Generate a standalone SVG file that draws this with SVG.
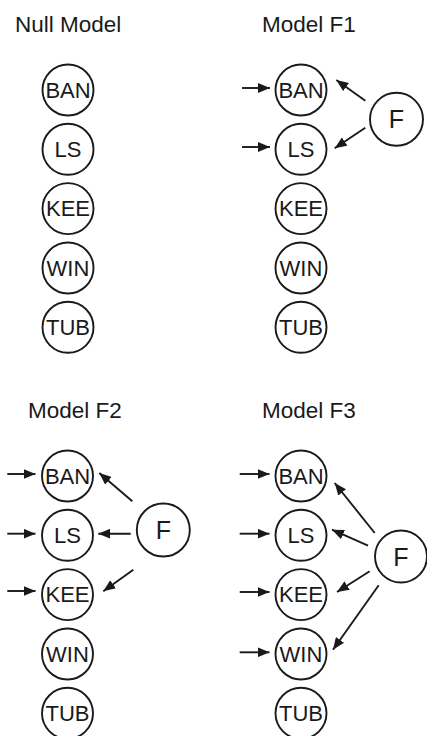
<svg xmlns="http://www.w3.org/2000/svg" width="427" height="736" viewBox="0 0 427 736">
<defs>
<marker id="ah" markerUnits="userSpaceOnUse" markerWidth="12" markerHeight="10" viewBox="0 0 12 10" refX="12" refY="5" orient="auto">
<path d="M0,0 L12,5 L0,10 Z" fill="#1a1a1a"/>
</marker>
</defs>
<style>
text{font-family:"Liberation Sans",Arial,sans-serif;fill:#1a1a1a}
.t{font-size:22.5px}
.n{font-size:22px;text-anchor:middle}
.f{font-size:25px;text-anchor:middle}
circle{fill:#fff;stroke:#1a1a1a;stroke-width:1.9}
line{stroke:#1a1a1a;stroke-width:1.9;marker-end:url(#ah)}
</style>
<rect width="427" height="736" fill="#fff"/>
<g id="titles">
<text class="t" x="15" y="31.5">Null Model</text>
<text class="t" x="262" y="31.5">Model F1</text>
<text class="t" x="28" y="417.5">Model F2</text>
<text class="t" x="262" y="417.5">Model F3</text>
</g>
<g id="null-model">
<g id="null-BAN"><circle cx="68" cy="90" r="25.5"/><text class="n" x="68" y="97.7">BAN</text></g>
<g id="null-LS"><circle cx="68" cy="149.3" r="25.5"/><text class="n" x="68" y="157">LS</text></g>
<g id="null-KEE"><circle cx="68" cy="208.6" r="25.5"/><text class="n" x="68" y="216.3">KEE</text></g>
<g id="null-WIN"><circle cx="68" cy="268" r="25.5"/><text class="n" x="68" y="275.7">WIN</text></g>
<g id="null-TUB"><circle cx="68" cy="327.3" r="25.5"/><text class="n" x="68" y="335">TUB</text></g>
</g>
<g id="f1-model">
<g id="f1-BAN"><circle cx="301" cy="90" r="25.5"/><text class="n" x="301" y="97.7">BAN</text></g>
<g id="f1-LS"><circle cx="301" cy="149.3" r="25.5"/><text class="n" x="301" y="157">LS</text></g>
<g id="f1-KEE"><circle cx="301" cy="208.6" r="25.5"/><text class="n" x="301" y="216.3">KEE</text></g>
<g id="f1-WIN"><circle cx="301" cy="268" r="25.5"/><text class="n" x="301" y="275.7">WIN</text></g>
<g id="f1-TUB"><circle cx="301" cy="327.3" r="25.5"/><text class="n" x="301" y="335">TUB</text></g>
<g id="f1-F"><circle cx="396.5" cy="119.3" r="26.5"/><text class="f" x="396.5" y="128.3">F</text></g>
</g>
<g id="f2-model">
<g id="f2-BAN"><circle cx="67.5" cy="476" r="25.5"/><text class="n" x="67.5" y="483.7">BAN</text></g>
<g id="f2-LS"><circle cx="67.5" cy="535.3" r="25.5"/><text class="n" x="67.5" y="543">LS</text></g>
<g id="f2-KEE"><circle cx="67.5" cy="594.6" r="25.5"/><text class="n" x="67.5" y="602.3">KEE</text></g>
<g id="f2-WIN"><circle cx="67.5" cy="654" r="25.5"/><text class="n" x="67.5" y="661.7">WIN</text></g>
<g id="f2-TUB"><circle cx="67.5" cy="713.3" r="25.5"/><text class="n" x="67.5" y="721">TUB</text></g>
<g id="f2-F"><circle cx="163.3" cy="530" r="26.5"/><text class="f" x="163.3" y="539">F</text></g>
</g>
<g id="f3-model">
<g id="f3-BAN"><circle cx="301" cy="476" r="25.5"/><text class="n" x="301" y="483.7">BAN</text></g>
<g id="f3-LS"><circle cx="301" cy="535.3" r="25.5"/><text class="n" x="301" y="543">LS</text></g>
<g id="f3-KEE"><circle cx="301" cy="594.6" r="25.5"/><text class="n" x="301" y="602.3">KEE</text></g>
<g id="f3-WIN"><circle cx="301" cy="654" r="25.5"/><text class="n" x="301" y="661.7">WIN</text></g>
<g id="f3-TUB"><circle cx="301" cy="713.3" r="25.5"/><text class="n" x="301" y="721">TUB</text></g>
<g id="f3-F"><circle cx="401" cy="556.5" r="26"/><text class="f" x="401" y="565.5">F</text></g>
</g>
<g id="connectors">
<line x1="242" y1="88" x2="270" y2="88"/>
<line x1="242" y1="147" x2="270" y2="147"/>
<line x1="365.3" y1="100.7" x2="336.3" y2="80"/>
<line x1="365.3" y1="127.7" x2="334.7" y2="148.3"/>
<line x1="7.3" y1="474" x2="35.5" y2="474"/>
<line x1="7.3" y1="533.7" x2="35.5" y2="533.7"/>
<line x1="7.3" y1="591" x2="35.5" y2="591"/>
<line x1="132.3" y1="501.3" x2="99.3" y2="473"/>
<line x1="130.7" y1="533.7" x2="98.3" y2="533.7"/>
<line x1="133.3" y1="569.7" x2="103.3" y2="591.3"/>
<line x1="239.7" y1="474" x2="269.5" y2="474"/>
<line x1="239.7" y1="533.7" x2="269.5" y2="533.7"/>
<line x1="239.7" y1="592" x2="269.5" y2="592"/>
<line x1="239.7" y1="652.3" x2="269.5" y2="652.3"/>
<line x1="374.7" y1="533" x2="334.7" y2="483"/>
<line x1="368" y1="545.7" x2="332" y2="529.7"/>
<line x1="369.7" y1="571.3" x2="337" y2="592"/>
<line x1="378.7" y1="585.3" x2="333" y2="649.7"/>
</g>
</svg>
